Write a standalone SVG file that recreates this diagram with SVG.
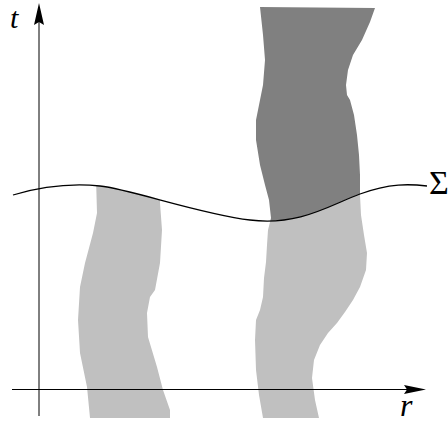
<svg xmlns="http://www.w3.org/2000/svg" width="448" height="423" viewBox="0 0 448 423">
<style>
.lbl{font-family:"Liberation Serif","Times New Roman",serif;fill:#000}
.it{font-style:italic}
.dark{fill:#808080}
.light{fill:#c0c0c0}
.axis{stroke:#000;fill:none}
</style>
<defs>
<clipPath id="above"><path d="M0,199 L13,195 C40,187 70,183 100,186 C130,189 200,214 250,220 C300,226 330,205 360,194 C390,183 410,184 427,186 L448,186 L448,0 L0,0 Z"/></clipPath>
<clipPath id="below"><path d="M0,199 L13,195 C40,187 70,183 100,186 C130,189 200,214 250,220 C300,226 330,205 360,194 C390,183 410,184 427,186 L448,186 L448,423 L0,423 Z"/></clipPath>
<path id="rightBlob" d="M260,7 L375,8 L370,22 L362,40 L353,55 L348,70 L346,85 L347,95 L350,100 L354,115 L357,135 L359,155 L360,175 L360,195 L361,215 L364,235 L367,253 L366,270 L360,287 L353,300 L345,312 L337,323 L328,333 L320,345 L314,360 L312,378 L315,400 L319,418 L263,418 L259,395 L256,370 L255,340 L256,320 L260,310 L263,297 L264,278 L266,262 L267,245 L268,230 L271,218 L269,200 L265,185 L260,165 L256,140 L256,120 L259,105 L263,85 L265,60 L263,35 Z"/>
</defs>
<g id="leftRegion">
<path class="light" clip-path="url(#below)" d="M96,178 L161,178 L160,203 L162,230 L160,263 L155,290 L150,297 L147,313 L148,337 L157,367 L163,390 L170,410 L170,418 L90,418 L87,387 L80,353 L78,320 L80,287 L85,263 L93,233 L97,213 Z"/>
</g>
<g id="rightRegion">
<use href="#rightBlob" class="light" clip-path="url(#below)"/>
<use href="#rightBlob" class="dark" clip-path="url(#above)"/>
</g>
<g id="connectors">
<line class="axis" x1="39" y1="416" x2="39" y2="20" stroke-width="1"/>
<path d="M39,3 L44,25 L39,22 L34,25 Z" fill="#000"/>
<line class="axis" x1="12" y1="389.5" x2="408" y2="389.5" stroke-width="1.2"/>
<path d="M426,389.5 L404,394 L407,389.5 L404,385 Z" fill="#000"/>
<path id="sigma" class="axis" stroke-width="1.3" d="M13,195 C40,187 70,183 100,186 C130,189 200,214 250,220 C300,226 330,205 360,194 C390,183 410,184 427,186"/>
</g>
<g id="labels">
<text class="lbl it" x="10" y="28" font-size="30">t</text>
<text class="lbl it" x="400" y="416" font-size="32">r</text>
<text class="lbl" x="429" y="194" font-size="34">Σ</text>
</g>
</svg>
